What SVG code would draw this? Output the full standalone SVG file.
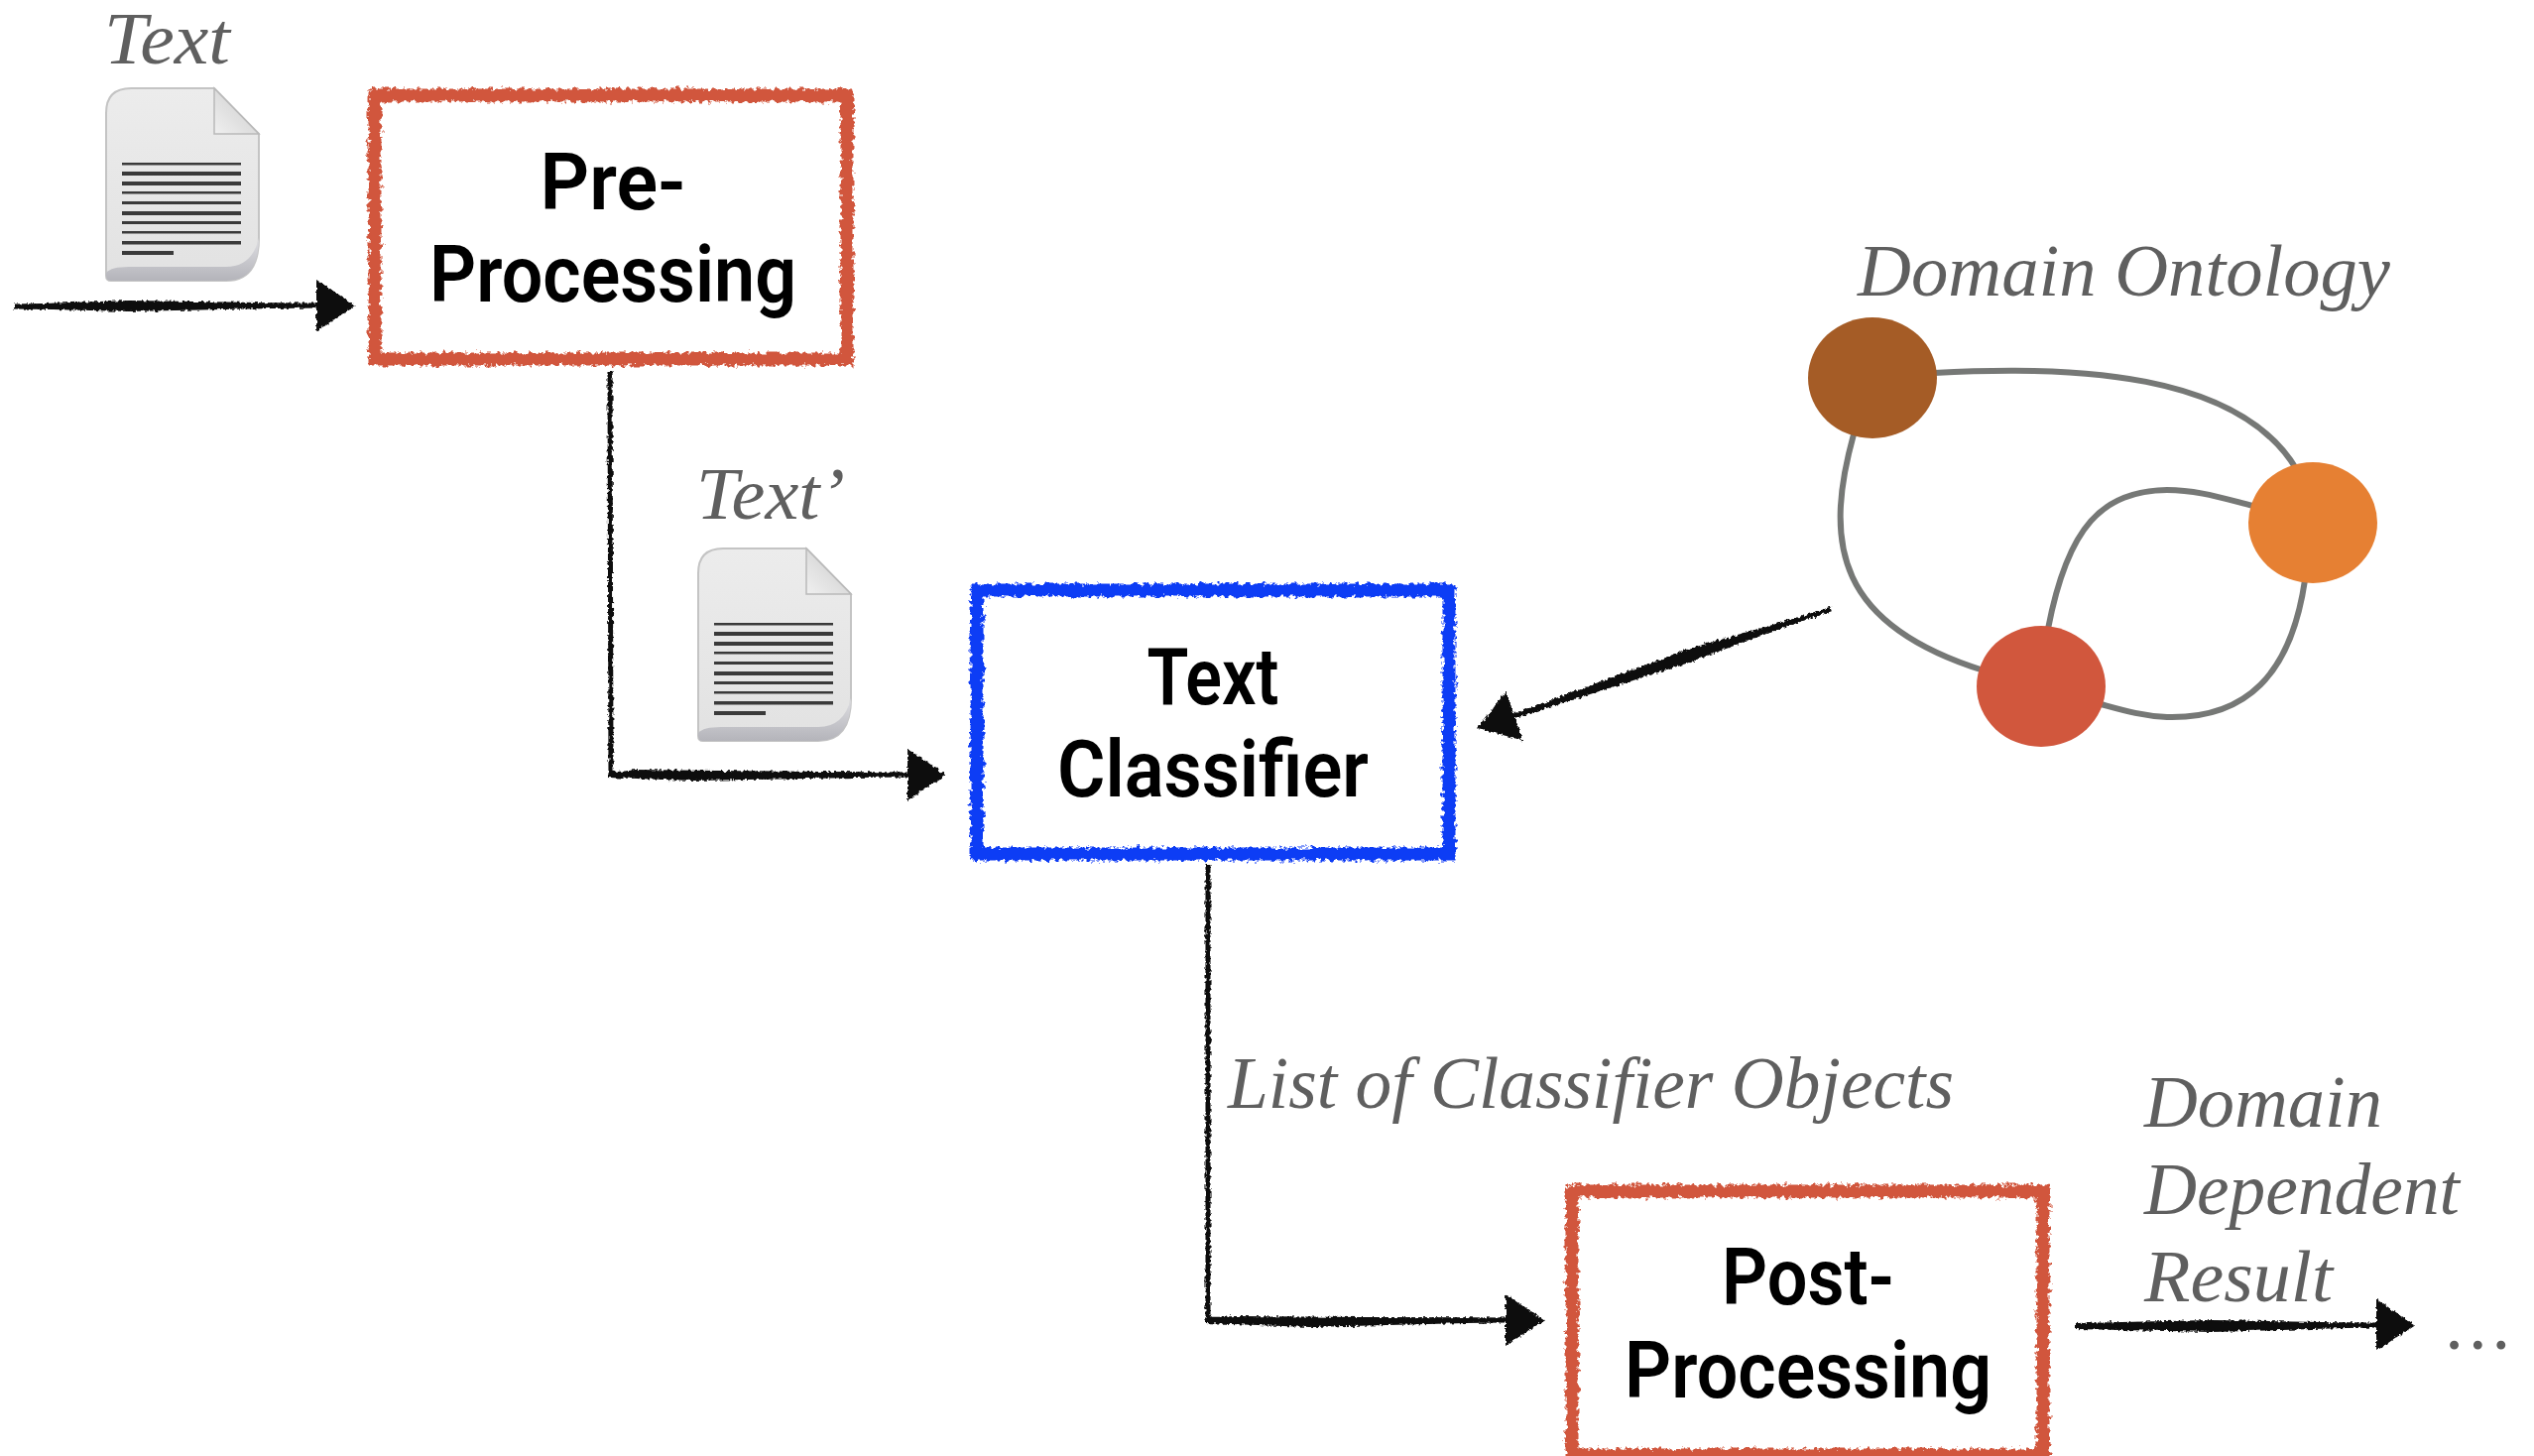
<svg xmlns="http://www.w3.org/2000/svg" xmlns:xlink="http://www.w3.org/1999/xlink" width="2555" height="1468" viewBox="0 0 2555 1468">
<style>
.box{fill:#fff;stroke-width:13;filter:url(#rough)}
.red{stroke:#d1573d}
.blue{stroke:#0f3df5}
.title{font-family:Roboto,"Liberation Sans",sans-serif;font-weight:600;font-size:80px;fill:#000}
.label{font-family:"Liberation Serif",serif;font-style:italic;font-size:75px;fill:#5f5f5f}
.edge{fill:none;stroke:#767876;stroke-width:6}
.ink{fill:none;stroke:#0a0a0a;stroke-width:5;marker-end:url(#head)}
.taper{fill:#0a0a0a}
.sketch{filter:url(#ink)}
.ln{fill:#3a3a3a}
</style>
<defs>
<filter id="rough" x="-5%" y="-5%" width="110%" height="110%"><feTurbulence type="fractalNoise" baseFrequency="0.22" numOctaves="3" seed="4"/><feDisplacementMap in="SourceGraphic" scale="9" xChannelSelector="R" yChannelSelector="G"/></filter>
<filter id="ink" x="-2%" y="-2%" width="104%" height="104%"><feTurbulence type="fractalNoise" baseFrequency="0.3" numOctaves="2" seed="9"/><feDisplacementMap in="SourceGraphic" scale="5" xChannelSelector="R" yChannelSelector="G"/></filter>
<marker id="head" markerUnits="userSpaceOnUse" markerWidth="44" markerHeight="54" refX="1" refY="27" orient="auto" viewBox="0 0 44 54"><path d="M0,1 L39,27 L0,53 Z" fill="#0a0a0a"/></marker>
<linearGradient id="page" x1="0" y1="0" x2="0" y2="1"><stop offset="0" stop-color="#ececec"/><stop offset="1" stop-color="#e2e2e2"/></linearGradient>
<linearGradient id="curl" x1="0" y1="0" x2="0" y2="1"><stop offset="0" stop-color="#dedee2"/><stop offset="1" stop-color="#b4b4ba"/></linearGradient>
<linearGradient id="fold" x1="0" y1="1" x2="1" y2="0"><stop offset="0" stop-color="#f0f0f0"/><stop offset="1" stop-color="#c8c8c8"/></linearGradient>
<symbol id="doc" width="155" height="195" viewBox="0 0 155 195" overflow="visible">
<path d="M26,1 H110 L155,47 V152 Q155,195 122,195 H6 Q1,195 1,190 V26 Q1,1 26,1 Z" fill="url(#page)" stroke="#c4c4c4" stroke-width="2"/>
<path d="M1,190 V187 Q6,181 24,181 H122 Q148,181 155,152 Q155,195 122,195 H6 Q1,195 1,190 Z" fill="url(#curl)"/>
<path d="M110,1 L155,47 H110 Z" fill="url(#fold)" stroke="#b9b9b9" stroke-width="1.5"/>
<rect class="ln" x="17" y="76" width="120" height="2.5"/><rect class="ln" x="17" y="85" width="120" height="4"/><rect class="ln" x="17" y="95" width="120" height="4"/><rect class="ln" x="17" y="105" width="120" height="2.5"/><rect class="ln" x="17" y="115" width="120" height="3"/><rect class="ln" x="17" y="125" width="120" height="4"/><rect class="ln" x="17" y="135" width="120" height="3"/><rect class="ln" x="17" y="145" width="120" height="2.5"/><rect class="ln" x="17" y="155" width="120" height="3.5"/><rect class="ln" x="17" y="165" width="52" height="4"/>
</symbol>
</defs>
<rect width="2555" height="1468" fill="#fff"/>

<g id="connectors">
<g class="sketch">
<path class="ink" d="M14,309 L320,308"/>
<path class="taper" d="M14,307 L130,303 L320,306 L320,310 L130,314 L14,311 Z"/>
<path class="ink" d="M615,374 L616,780 L916,781"/>
<path class="taper" d="M612,374 L613,780 L640,776 L916,779 L916,783 L700,787 L613,784 Z"/>
<path class="ink" d="M1846,614 L1526,722"/>
<path class="taper" d="M1846,613 L1700,655 L1526,720 L1528,724 L1700,669 L1846,615 Z"/>
<path class="ink" d="M1218,872 L1218,1330 L1519,1331"/>
<path class="taper" d="M1215,872 L1215,1330 L1245,1327 L1519,1329 L1519,1333 L1320,1338 L1215,1334 Z"/>
<path class="ink" d="M2093,1337 L2397,1336"/>
<path class="taper" d="M2093,1334 L2230,1331 L2397,1334 L2397,1338 L2230,1343 L2093,1340 Z"/>
</g>
<path class="edge" d="M1950,376 C2090,368 2258,375 2316,474"/>
<path class="edge" d="M1869,438 C1838,550 1853,630 2000,676"/>
<path class="edge" d="M2065,634 C2085,530 2120,495 2185,494 C2215,494 2240,502 2272,510"/>
<path class="edge" d="M2324,585 C2310,680 2265,725 2185,723 C2160,722 2140,716 2118,710"/>
</g>

<g id="input-text"><text class="label" x="105" y="64" textLength="127" lengthAdjust="spacingAndGlyphs">Text</text><use href="#doc" xlink:href="#doc" x="106" y="88"/></g>
<g id="pre-processing"><rect class="box red" x="378" y="96" width="476" height="266"/>
<text class="title" x="618" y="211" text-anchor="middle" textLength="147" lengthAdjust="spacingAndGlyphs">Pre-</text><text class="title" x="618" y="304" text-anchor="middle" textLength="370" lengthAdjust="spacingAndGlyphs">Processing</text></g>
<g id="text-prime"><text class="label" x="702" y="523" textLength="150" lengthAdjust="spacingAndGlyphs">Text’</text><use href="#doc" xlink:href="#doc" x="703" y="552"/></g>
<g id="text-classifier"><rect class="box blue" x="985" y="595" width="476" height="266"/>
<text class="title" x="1223" y="710" text-anchor="middle" textLength="133" lengthAdjust="spacingAndGlyphs">Text</text><text class="title" x="1223" y="803" text-anchor="middle" textLength="314" lengthAdjust="spacingAndGlyphs">Classifier</text></g>
<g id="domain-ontology"><text class="label" x="1873" y="298" textLength="537" lengthAdjust="spacingAndGlyphs">Domain Ontology</text>
<ellipse cx="1888" cy="381" rx="65" ry="61" fill="#a55c26"/><ellipse cx="2332" cy="527" rx="65" ry="61" fill="#e68033"/><ellipse cx="2058" cy="692" rx="65" ry="61" fill="#d1573d"/></g>
<g id="list-label"><text class="label" x="1238" y="1117" textLength="732" lengthAdjust="spacingAndGlyphs">List of Classifier Objects</text></g>
<g id="post-processing"><rect class="box red" x="1585" y="1201" width="475" height="266"/>
<text class="title" x="1823" y="1315" text-anchor="middle" textLength="174" lengthAdjust="spacingAndGlyphs">Post-</text><text class="title" x="1823" y="1409" text-anchor="middle" textLength="370" lengthAdjust="spacingAndGlyphs">Processing</text></g>
<g id="result-label"><text class="label" x="2162" y="1136" textLength="240" lengthAdjust="spacingAndGlyphs">Domain</text><text class="label" x="2162" y="1224" textLength="318" lengthAdjust="spacingAndGlyphs">Dependent</text><text class="label" x="2162" y="1312" textLength="190" lengthAdjust="spacingAndGlyphs">Result</text><text class="label" x="2467" y="1360" textLength="66" lengthAdjust="spacing">...</text></g>
</svg>
